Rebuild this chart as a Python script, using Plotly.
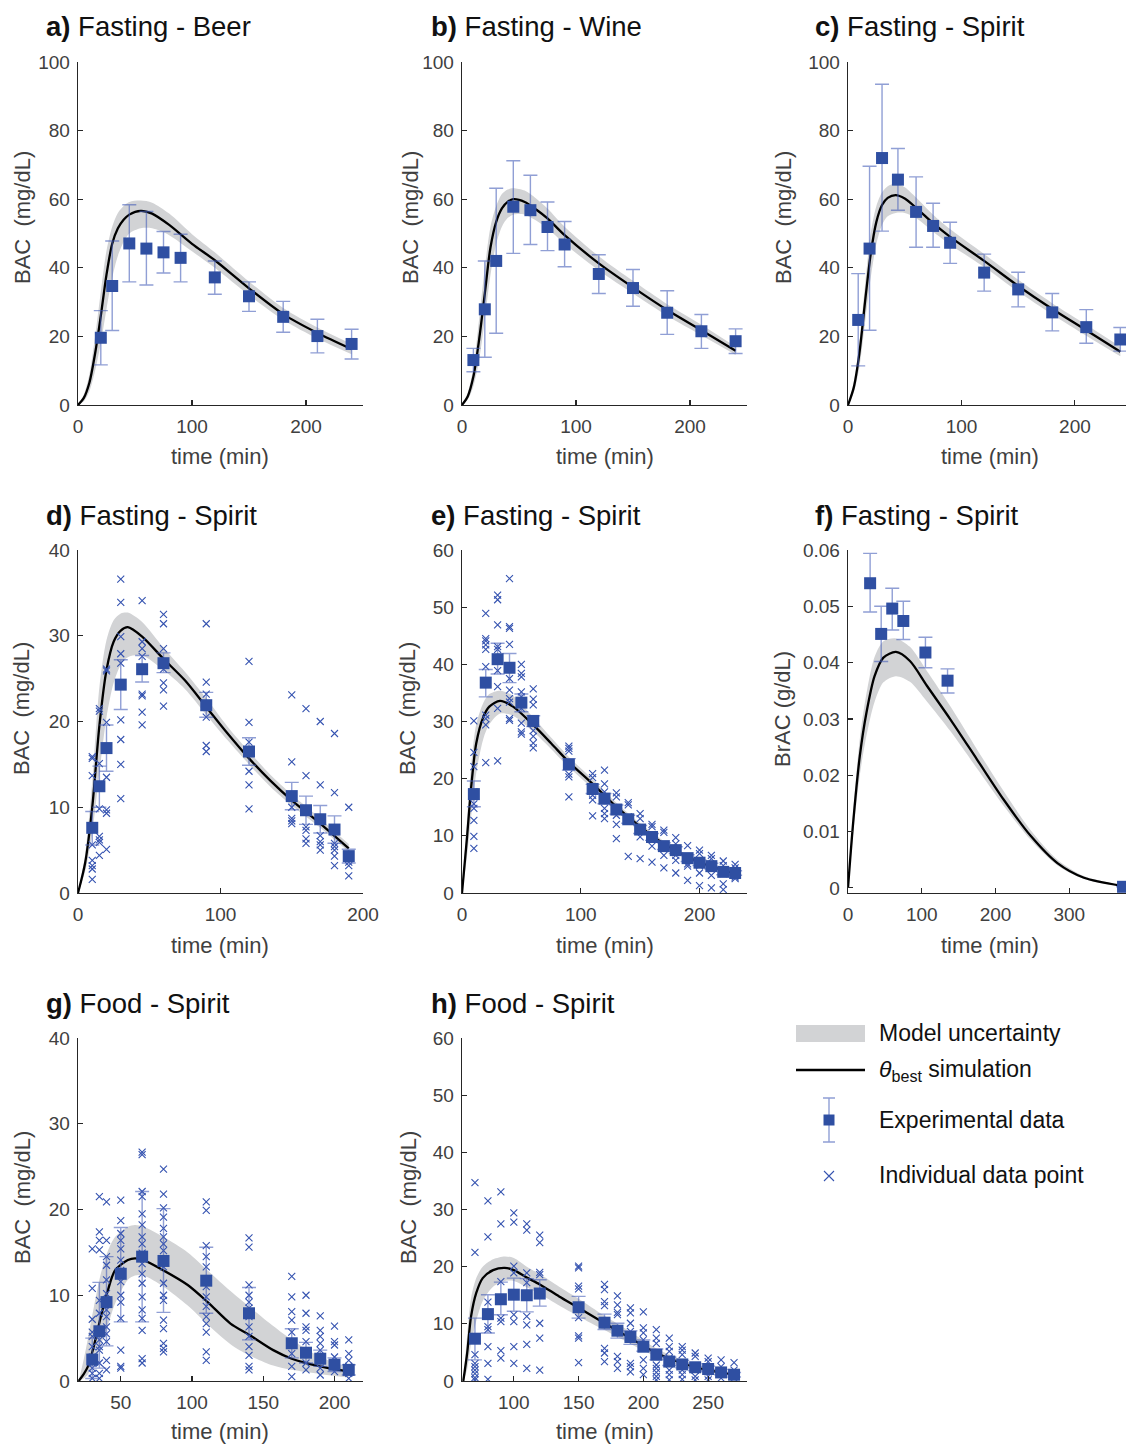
import plotly.graph_objects as go

W, H = 1126, 1444
FONT = "Liberation Sans, Arial, Helvetica, sans-serif"
BLUE = "#2f4fa2"
ERR = "rgba(70,95,185,0.6)"
XCOL = "#3553b0"
BAND = "#d2d3d5"
AX = "#262626"
TXT = "#404040"

# ---------------- data ----------------
titles = ["a)|Fasting - Beer", "b)|Fasting - Wine", "c)|Fasting - Spirit",
          "d)|Fasting - Spirit", "e)|Fasting - Spirit", "f)|Fasting - Spirit",
          "g)|Food - Spirit", "h)|Food - Spirit"]
ylabels = ["BAC  (mg/dL)"] * 5 + ["BrAC (g/dL)"] + ["BAC  (mg/dL)"] * 2
xlabel = "time (min)"

# experimental means and error-bar limits
a_t = [20, 30, 45, 60, 75, 90, 120, 150, 180, 210, 240]
a_y = [19.6, 34.7, 47.1, 45.6, 44.5, 42.9, 37.2, 31.7, 25.7, 20.1, 17.8]
a_hi = [27.5, 47.8, 58.4, 56.4, 50.6, 49.8, 42.0, 35.9, 30.2, 25.0, 22.1]
a_lo = [11.7, 21.7, 35.9, 35.0, 38.5, 35.9, 32.3, 27.3, 21.2, 15.2, 13.4]

b_t = [10, 20, 30, 45, 60, 75, 90, 120, 150, 180, 210, 240]
b_y = [13.1, 27.9, 42.0, 57.8, 56.8, 51.9, 46.8, 38.2, 34.1, 26.9, 21.5, 18.6]
b_hi = [16.5, 42.0, 63.2, 71.2, 67.0, 59.2, 53.5, 43.8, 39.5, 33.3, 26.4, 22.2]
b_lo = [9.7, 13.9, 20.9, 44.2, 46.8, 45.0, 40.3, 32.5, 28.8, 20.6, 16.5, 15.0]

c_t = [9, 19, 30, 44, 60, 75, 90, 120, 150, 180, 210, 240]
c_y = [24.8, 45.6, 72.0, 65.7, 56.3, 52.2, 47.3, 38.6, 33.7, 27.0, 22.7, 19.1]
c_hi = [38.3, 69.6, 93.5, 74.8, 66.5, 58.8, 53.3, 44.0, 38.7, 32.5, 27.8, 22.6]
c_lo = [11.4, 21.8, 50.7, 56.8, 46.0, 46.0, 41.3, 33.2, 28.6, 21.6, 18.0, 15.7]

d_t = [10, 15, 20, 30, 45, 60, 90, 120, 150, 160, 170, 180, 190]
d_y = [7.6, 12.45, 16.9, 24.3, 26.1, 26.8, 21.9, 16.5, 11.3, 9.65, 8.6, 7.4, 4.3]
d_hi = [9.5, 14.8, 19.6, 27.2, 27.7, 28.0, 23.4, 18.1, 12.9, 11.3, 10.2, 9.0, 5.1]
d_lo = [5.6, 10.0, 14.2, 21.4, 24.6, 25.7, 20.5, 14.9, 9.7, 8.0, 7.0, 5.8, 3.5]

e_t = [10, 20, 30, 40, 50, 60, 90, 110, 120, 130, 140, 150, 160, 170, 180, 190, 200, 210, 220, 230]
e_y = [17.3, 36.8, 40.9, 39.4, 33.3, 30.1, 22.5, 18.2, 16.5, 14.6, 12.9, 11.1, 9.8, 8.2, 7.5, 6.1, 5.3, 4.7, 3.7, 3.5]
e_hi = [19.6, 39.1, 43.7, 41.9, 34.8, 31.0, 23.5, 19.0, 17.4, 15.4, 13.6, 11.8, 10.4, 8.8, 8.1, 6.7, 5.8, 5.2, 4.2, 3.9]
e_lo = [15.1, 34.3, 38.3, 36.8, 31.7, 29.1, 21.5, 17.4, 15.6, 13.8, 12.2, 10.4, 9.2, 7.6, 6.9, 5.5, 4.8, 4.2, 3.2, 3.1]

f_t = [30, 45, 60, 75, 105, 135, 373]
f_y = [0.0541, 0.0451, 0.0496, 0.0474, 0.0418, 0.0368, 0.0002]
f_hi = [0.0594, 0.0500, 0.0532, 0.0509, 0.0445, 0.0389, 0.0002]
f_lo = [0.0490, 0.0402, 0.0458, 0.0441, 0.0391, 0.0346, 0.0002]

g_t = [30, 35, 40, 50, 65, 80, 110, 140, 170, 180, 190, 200, 210]
g_y = [2.5, 5.8, 9.2, 12.5, 14.5, 14.0, 11.7, 7.9, 4.4, 3.3, 2.6, 1.9, 1.3]
g_hi = [5.0, 11.5, 14.5, 17.9, 22.1, 20.1, 15.6, 10.9, 6.1, 4.5, 3.6, 2.7, 1.9]
g_lo = [0.3, 1.5, 4.1, 6.9, 6.9, 8.0, 7.9, 4.8, 2.7, 2.1, 1.7, 1.1, 0.7]

h_t = [70, 80, 90, 100, 110, 120, 150, 170, 180, 190, 200, 210, 220, 230, 240, 250, 260, 270]
h_y = [7.4, 11.7, 14.3, 15.1, 15.0, 15.3, 12.9, 10.2, 8.8, 7.7, 6.0, 4.6, 3.4, 2.9, 2.4, 2.1, 1.5, 1.1]
h_hi = [11.0, 15.1, 17.3, 18.0, 17.9, 17.7, 14.8, 11.7, 10.1, 8.8, 7.2, 5.6, 4.2, 3.6, 3.0, 2.6, 2.0, 1.5]
h_lo = [3.7, 8.4, 11.6, 12.2, 12.1, 13.1, 11.0, 9.0, 7.5, 6.4, 5.2, 3.7, 2.7, 2.3, 1.8, 1.6, 1.1, 0.7]

# model simulation (best) and uncertainty band
a_st = [0, 5, 10, 15, 20, 25, 30, 35, 40, 45, 55, 65, 80, 100, 120, 150, 180, 210, 240]
a_sy = [0, 2, 6.5, 15, 26, 38, 47, 51.5, 54, 55.5, 56.6, 55.8, 52.5, 47, 42.2, 34, 26.5, 21, 16.3]
a_sl = [0, 1, 4, 10, 18, 28, 37, 43.5, 47.5, 50, 51.5, 51.5, 49.5, 44.8, 40, 32, 24.8, 19.4, 14.8]
a_sh = [0, 3, 9, 20, 33, 45, 52, 56, 58, 59.2, 59.6, 59, 55.8, 49.8, 44.5, 36, 28.3, 22.6, 17.8]

b_st = [0, 5, 10, 15, 20, 25, 30, 35, 40, 45, 55, 65, 75, 90, 120, 150, 180, 210, 240]
b_sy = [0, 2.5, 8.3, 19, 32.5, 46, 53.4, 57.3, 59.2, 60, 59.2, 57, 54.4, 49.5, 41.3, 34.3, 27.7, 21.8, 15.8]
b_sl = [0, 1.5, 5.5, 13, 25, 38, 47, 52, 54.5, 55.5, 55.5, 53.8, 51.5, 47, 39.2, 32.5, 26, 20.3, 14.6]
b_sh = [0, 3.5, 11, 25, 40, 52, 58, 61.5, 62.8, 63.2, 62.5, 60.2, 57.3, 52, 43.4, 36.2, 29.4, 23.4, 17]

c_st = [0, 5, 10, 15, 20, 25, 30, 35, 42, 50, 60, 75, 90, 120, 150, 180, 210, 240]
c_sy = [0, 5, 15, 30, 44, 53.4, 58.3, 60.4, 61.2, 60.2, 57.5, 53, 49, 42, 34.7, 28, 21.8, 15.5]
c_sl = [0, 3.5, 11, 24, 37, 47, 52.5, 55, 56, 56, 54.5, 50.5, 46.8, 40.2, 33, 26.4, 20.2, 14.2]
c_sh = [0, 6.5, 18, 35, 50, 58, 62, 63.8, 64.5, 63.5, 60.5, 55.5, 51.3, 44, 36.5, 29.7, 23.4, 17]

d_st = [0, 5, 10, 15, 20, 25, 30, 35, 45, 60, 75, 90, 105, 120, 135, 150, 170, 190]
d_sy = [0, 3.5, 10, 19.5, 26, 29.3, 30.6, 31, 29.9, 27.3, 24.8, 21.7, 18.6, 15.7, 13.1, 10.8, 8.1, 5.2]
d_sl = [0, 2.5, 7, 14, 20.5, 24.5, 26.6, 27.5, 27.7, 26, 23.8, 20.8, 17.8, 15, 12.4, 10.2, 7.6, 4.8]
d_sh = [0, 4.5, 13, 24, 29.5, 31.8, 32.6, 32.7, 31.6, 28.6, 25.8, 22.7, 19.4, 16.5, 13.8, 11.5, 8.7, 5.7]

e_st = [0, 4, 8, 12, 18, 23, 32, 43, 60, 75, 90, 110, 130, 150, 170, 190, 210, 230]
e_sy = [0, 9.2, 19.1, 26.2, 30.8, 32.6, 33.6, 32.6, 29.4, 26.2, 22.9, 19.1, 15.1, 11.6, 8.6, 6.3, 4.6, 3.4]
e_sl = [0, 6, 14, 21, 27, 29.5, 31.4, 31, 28.2, 25.2, 22, 18.3, 14.4, 11, 8.1, 5.9, 4.3, 3.1]
e_sh = [0, 12, 23, 29.5, 33.3, 34.8, 35.4, 34.5, 30.7, 27.2, 23.8, 19.9, 15.8, 12.2, 9.1, 6.7, 4.9, 3.7]

f_st = [0, 7, 16, 25, 36, 48, 65, 84, 107, 139, 175, 211, 248, 284, 320, 370]
f_sy = [0, 0.0116, 0.0234, 0.0311, 0.0376, 0.0409, 0.0419, 0.0403, 0.0359, 0.0299, 0.0228, 0.0157, 0.0092, 0.0044, 0.0018, 0.0004]
f_sl = [0, 0.0095, 0.020, 0.027, 0.033, 0.0365, 0.0376, 0.0366, 0.0331, 0.0278, 0.0212, 0.0146, 0.0085, 0.0040, 0.0016, 0.0003]
f_sh = [0, 0.0135, 0.0265, 0.0345, 0.041, 0.0438, 0.0443, 0.0428, 0.0385, 0.0322, 0.0246, 0.0172, 0.0102, 0.0050, 0.0021, 0.0005]

g_st = [20.5, 24, 27, 31, 36, 41, 46, 55, 60, 66, 80, 97, 111, 127, 140, 157, 170, 190, 210]
g_sy = [0, 0.8, 1.7, 4.0, 7.5, 10.6, 12.9, 14.1, 14.3, 14.1, 12.9, 11.2, 9.2, 6.7, 5.4, 3.6, 2.6, 1.7, 1.1]
g_sl = [0, 0.3, 0.8, 2, 4.2, 6.5, 9, 11.8, 12.3, 12.3, 11, 8.8, 6.6, 4.3, 3.0, 1.8, 1.3, 0.8, 0.4]
g_sh = [0, 2.5, 5, 8.5, 12.5, 15.2, 16.8, 18, 18.2, 18, 16.8, 15, 12.9, 10.5, 8.7, 6.4, 4.8, 2.8, 1.6]

h_st = [61, 64, 67, 71, 76, 84, 93, 100, 110, 120, 135, 150, 170, 190, 210, 230, 250, 270]
h_sy = [0, 4.9, 11.3, 15.4, 18, 19.4, 19.8, 19.4, 18.1, 16.9, 14.8, 12.8, 10.1, 7.5, 4.9, 3.1, 1.9, 1.1]
h_sl = [0, 2, 6.5, 10.5, 14, 16.5, 17.5, 17.5, 16.4, 15.2, 13.2, 11.3, 8.9, 6.5, 4.2, 2.5, 1.5, 0.8]
h_sh = [0, 8, 14.5, 18, 20, 21.3, 21.8, 21.5, 20, 18.7, 16.5, 14.4, 11.4, 8.6, 5.7, 3.7, 2.3, 1.4]

# individual data points (time -> values)
d_ind = {
    10: [15.9, 15.7, 13.7, 5.6, 3.8, 3.2, 2.8, 1.6],
    15: [21.5, 21.2, 15.1, 9.8, 6.6, 6.2, 5.9, 4.4],
    20: [26.1, 25.9, 19.9, 13.5, 9.7, 9.3, 5.1],
    30: [36.6, 33.9, 29.9, 27.9, 26.8, 20.2, 17.9, 15.0, 11.0],
    45: [34.1, 29.3, 28.5, 27.6, 23.2, 23.0, 21.1, 19.6],
    60: [32.5, 31.4, 28.5, 26.1, 24.5, 23.7, 21.8],
    90: [31.4, 24.6, 23.2, 20.5, 17.2, 16.5],
    120: [27.0, 19.9, 17.6, 14.2, 12.6, 9.8],
    150: [23.1, 15.3, 10.0, 8.7, 8.4, 8.1],
    160: [21.5, 13.7, 7.7, 7.3, 6.3, 5.8],
    170: [20.0, 12.6, 6.7, 6.0, 5.6, 5.0],
    180: [18.6, 11.7, 5.8, 5.4, 5.0, 4.3, 3.2],
    190: [10.0, 4.0, 3.6, 3.2, 2.0],
}
e_ind = {
    10: [30.1, 24.6, 22.1, 17.7, 15.6, 14.8, 12.7, 9.9, 7.8],
    20: [48.9, 44.5, 44.1, 43.4, 42.6, 39.6, 31.1, 30.5, 29.4, 22.8],
    30: [52.1, 51.3, 46.9, 43.1, 42.6, 38.9, 36.1, 32.3, 23.1],
    40: [55.0, 46.6, 46.3, 43.5, 37.5, 35.5, 34.0, 33.4, 30.5, 30.2],
    50: [40.0, 38.4, 37.8, 35.2, 34.3, 32.3, 29.7, 28.2, 27.8],
    60: [35.7, 33.9, 32.9, 29.7, 28.4, 27.4, 26.2, 25.4],
    90: [25.7, 25.3, 24.8, 20.8, 20.3, 16.8],
    110: [20.9, 20.2, 17.7, 17.1, 16.3, 13.5],
    120: [21.5, 19.1, 17.7, 14.8, 13.9, 13.0],
    130: [17.5, 16.8, 13.6, 12.0, 9.5],
    140: [15.8, 15.4, 13.3, 12.7, 6.4],
    150: [13.9, 13.0, 11.4, 9.8, 6.0],
    160: [12.0, 11.6, 9.5, 8.2, 5.4],
    170: [11.0, 10.6, 7.8, 6.6, 4.4],
    180: [9.7, 8.6, 6.6, 5.7, 3.5],
    190: [8.3, 6.3, 5.1, 4.7, 2.2],
    200: [7.5, 6.9, 4.8, 3.5, 1.3],
    210: [6.6, 6.0, 4.4, 3.1, 0.9],
    220: [5.6, 4.8, 3.4, 1.6, 0.6],
    230: [5.0, 4.4, 3.4, 2.8, 2.5],
}
g_ind = {
    30: [15.4, 10.8, 7.2, 5.7, 5.2, 4.0, 2.8, 2.1, 1.5, 0.9, 0.3],
    35: [21.5, 17.4, 16.4, 15.3, 9.4, 7.9, 4.8, 4.0, 3.6, 2.1, 0.9, 0.3],
    40: [20.9, 16.4, 14.5, 13.5, 11.8, 10.2, 9.2, 8.3, 7.5, 6.3, 5.5, 4.6, 2.4, 1.3],
    50: [21.1, 18.7, 17.2, 16.4, 15.4, 14.1, 12.9, 11.6, 10.0, 9.2, 7.3, 3.6, 1.7, 1.5],
    65: [26.7, 26.4, 22.1, 21.5, 19.5, 18.2, 16.8, 16.0, 14.9, 13.7, 12.5, 11.4, 9.8, 8.3, 7.3, 5.9, 2.6, 2.1],
    80: [24.7, 21.8, 20.2, 19.1, 17.8, 16.8, 16.0, 15.2, 14.1, 13.3, 11.4, 10.0, 9.4, 7.1, 6.1, 4.4, 3.8, 3.4],
    110: [20.9, 19.9, 15.8, 14.5, 13.3, 11.9, 11.0, 9.8, 8.7, 7.5, 6.7, 5.7, 3.4, 2.4],
    140: [16.7, 15.6, 11.2, 10.0, 9.2, 8.5, 7.5, 6.3, 5.2, 4.0, 3.0, 1.7, 1.3],
    170: [12.2, 9.8, 8.1, 7.1, 5.7, 4.4, 3.2, 1.7, 0.5],
    180: [10.0, 7.9, 6.3, 5.9, 4.6, 3.2, 2.1, 1.3],
    190: [7.6, 5.9, 5.2, 4.4, 3.6, 2.4, 1.5, 0.7],
    200: [6.4, 4.6, 4.2, 2.8, 1.9, 1.1],
    210: [4.8, 3.2, 2.4, 1.7, 0.9, 0.3],
}
h_ind = {
    70: [34.7, 22.5, 4.6, 3.1, 2.5, 1.9, 1.3, 0.6, 0.2],
    80: [31.5, 25.2, 13.8, 9.5, 9.0, 6.0, 3.1, 0.3],
    90: [33.1, 27.5, 17.4, 11.0, 10.4, 5.3, 4.0],
    100: [29.4, 27.8, 20.1, 18.9, 11.6, 10.4, 6.0, 3.1],
    110: [27.5, 26.4, 18.9, 17.2, 11.3, 9.8, 6.4, 2.2],
    120: [25.5, 24.2, 19.0, 18.6, 10.1, 7.5, 1.9],
    150: [20.1, 19.8, 16.6, 16.1, 11.1, 7.9, 7.5, 3.2],
    170: [16.9, 16.0, 13.9, 13.2, 10.1, 5.7, 4.9, 3.4],
    180: [14.9, 13.3, 12.0, 11.6, 4.3, 3.4, 2.2],
    190: [12.8, 11.9, 10.1, 8.7, 3.1, 2.5, 1.6],
    200: [12.1, 9.3, 8.4, 7.2, 3.7, 2.2, 1.1],
    210: [9.0, 7.5, 6.6, 2.8, 2.2, 1.5, 0.8, 0.2],
    220: [7.5, 6.0, 5.2, 4.0, 1.9, 1.1, 0.2],
    230: [6.0, 5.4, 4.6, 1.9, 1.1, 0.3],
    240: [4.9, 4.3, 1.9, 0.8, 0.2],
    250: [4.0, 3.4, 1.6, 0.8, 0.2],
    260: [3.7, 2.5, 1.3, 0.5],
    270: [3.2, 1.9, 1.1, 0.5],
}

x_ticks = [[0, 100, 200]] * 5 + [[0, 100, 200, 300], [50, 100, 150, 200], [100, 150, 200, 250]]
y_ticks = [[0, 20, 40, 60, 80, 100]] * 3 + [[0, 10, 20, 30, 40], [0, 10, 20, 30, 40, 50, 60],
           [0, 0.01, 0.02, 0.03, 0.04, 0.05, 0.06], [0, 10, 20, 30, 40], [0, 10, 20, 30, 40, 50, 60]]
y_ticktext_f = ["0", "0.01", "0.02", "0.03", "0.04", "0.05", "0.06"]

legend_labels = ["Model uncertainty", "<i>θ</i><sub>best</sub> simulation",
                 "Experimental data", "Individual data point"]

exp_data = [(a_t, a_y, a_hi, a_lo), (b_t, b_y, b_hi, b_lo), (c_t, c_y, c_hi, c_lo),
            (d_t, d_y, d_hi, d_lo), (e_t, e_y, e_hi, e_lo), (f_t, f_y, f_hi, f_lo),
            (g_t, g_y, g_hi, g_lo), (h_t, h_y, h_hi, h_lo)]
sim_data = [(a_st, a_sy, a_sl, a_sh), (b_st, b_sy, b_sl, b_sh), (c_st, c_sy, c_sl, c_sh),
            (d_st, d_sy, d_sl, d_sh), (e_st, e_sy, e_sl, e_sh), (f_st, f_sy, f_sl, f_sh),
            (g_st, g_sy, g_sl, g_sh), (h_st, h_sy, h_sl, h_sh)]
ind_data = [None, None, None, d_ind, e_ind, None, g_ind, h_ind]

# ---------------- layout geometry (pixels) ----------------
GEOM = [(78, 363, 62, 405), (462, 747, 62, 405), (848, 1126, 62, 405),
        (78, 363, 550, 893), (462, 747, 550, 893), (848, 1126, 550, 893),
        (78, 363, 1038, 1381), (462, 747, 1038, 1381)]
XRANGE = [[0, 250], [0, 250], [0, 245], [0, 200], [0, 240], [0, 377], [20, 220], [60, 280]]
YRANGE = [[0, 100], [0, 100], [0, 100], [0, 40], [0, 60], [-0.0009, 0.06], [0, 40], [0, 60]]
TITLE_POS = [(44, 27), (429, 27), (813, 27), (44, 515), (429, 515), (813, 515), (44, 1003), (429, 1003)]
YLAB_POS = [(22, 218), (410, 218), (783, 218), (22, 709), (408, 709), (783, 709), (22, 1198), (408, 1198)]
XLAB_POS = [(220, 456), (605, 456), (990, 456), (220, 945), (605, 945), (990, 945), (220, 1431), (605, 1431)]


def px(x):
    return x / W


def py(y):
    return 1 - y / H


fig = go.Figure()
layout = dict(width=W, height=H, margin=dict(l=0, r=0, t=0, b=0, pad=0, autoexpand=False),
              paper_bgcolor="white", plot_bgcolor="white", showlegend=False,
              font=dict(family=FONT, color=TXT))
annotations = []
shapes = []

for i in range(8):
    n = i + 1
    xa, ya = f"x{n}" if n > 1 else "x", f"y{n}" if n > 1 else "y"
    l, r, t, b = GEOM[i]
    axis_common = dict(showline=True, linecolor=AX, linewidth=1.3, ticks="inside", ticklen=5,
                       tickwidth=1.1, tickcolor=AX, showgrid=False, zeroline=False, automargin=False,
                       tickfont=dict(family=FONT, size=19, color=TXT), mirror=False)
    layout[f"xaxis{n}"] = dict(domain=[px(l), px(r)], range=XRANGE[i], anchor=ya,
                               tickvals=x_ticks[i], ticklabelstandoff=4, **axis_common)
    ydict = dict(domain=[py(b), py(t)], range=YRANGE[i], anchor=xa, tickvals=y_ticks[i],
                 ticklabelstandoff=3, **axis_common)
    if i == 5:
        ydict["ticktext"] = y_ticktext_f
    layout[f"yaxis{n}"] = ydict

    st, sy, sl, sh = sim_data[i]
    fig.add_trace(go.Scatter(x=st, y=sl, mode="lines", line=dict(width=0, shape="spline", smoothing=0.8),
                             xaxis=xa, yaxis=ya, hoverinfo="skip"))
    fig.add_trace(go.Scatter(x=st, y=sh, mode="lines", line=dict(width=0, shape="spline", smoothing=0.8),
                             fill="tonexty", fillcolor=BAND, xaxis=xa, yaxis=ya, hoverinfo="skip"))
    fig.add_trace(go.Scatter(x=st, y=sy, mode="lines",
                             line=dict(color="black", width=2.3, shape="spline", smoothing=0.8),
                             xaxis=xa, yaxis=ya))
    ind = ind_data[i]
    if ind is not None:
        xs, ys = [], []
        for tt, vals in ind.items():
            xs += [tt] * len(vals)
            ys += vals
        fig.add_trace(go.Scatter(x=xs, y=ys, mode="markers", xaxis=xa, yaxis=ya,
                                 marker=dict(symbol="x-thin", size=7, line=dict(color=XCOL, width=1.1))))
    et, ey, ehi, elo = exp_data[i]
    fig.add_trace(go.Scatter(
        x=et, y=ey, mode="markers", xaxis=xa, yaxis=ya,
        marker=dict(symbol="square", size=12, color=BLUE, line=dict(width=0)),
        error_y=dict(type="data", symmetric=False,
                     array=[h - v for h, v in zip(ehi, ey)],
                     arrayminus=[v - lo for v, lo in zip(ey, elo)],
                     color=ERR, thickness=1.4, width=7)))

    lab, rest = titles[i].split("|")
    tx, ty = TITLE_POS[i]
    annotations.append(dict(x=px(tx), y=py(ty), xref="paper", yref="paper", xanchor="left",
                            yanchor="middle", showarrow=False, text=f"<b>{lab}</b> {rest}",
                            font=dict(family=FONT, size=27.5, color="#111111")))
    yx, yy = YLAB_POS[i]
    annotations.append(dict(x=px(yx), y=py(yy), xref="paper", yref="paper", xanchor="center",
                            yanchor="middle", showarrow=False, text=ylabels[i], textangle=-90,
                            font=dict(family=FONT, size=22, color=TXT)))
    xx, xy = XLAB_POS[i]
    annotations.append(dict(x=px(xx), y=py(xy), xref="paper", yref="paper", xanchor="center",
                            yanchor="middle", showarrow=False, text=xlabel,
                            font=dict(family=FONT, size=22, color=TXT)))

# ---------------- legend (drawn on a hidden pixel-scaled axis) ----------------
layout["xaxis9"] = dict(domain=[px(780), 1.0], range=[780, 1126], visible=False, anchor="y9",
                        automargin=False)
layout["yaxis9"] = dict(domain=[py(1200), py(1010)], range=[1200, 1010], visible=False, anchor="x9",
                        automargin=False)
shapes.append(dict(type="rect", xref="x9", yref="y9", x0=796, x1=865, y0=1025, y1=1042,
                   fillcolor=BAND, line=dict(width=0)))
shapes.append(dict(type="line", xref="x9", yref="y9", x0=796, x1=865, y0=1070, y1=1070,
                   line=dict(color="black", width=2.3)))
fig.add_trace(go.Scatter(x=[829], y=[1120], mode="markers", xaxis="x9", yaxis="y9",
                         marker=dict(symbol="square", size=11, color=BLUE),
                         error_y=dict(type="data", array=[22], color=ERR, thickness=1.4, width=6)))
fig.add_trace(go.Scatter(x=[829], y=[1176], mode="markers", xaxis="x9", yaxis="y9",
                         marker=dict(symbol="x-thin", size=10, line=dict(color=XCOL, width=1.1))))
for lab_txt, yy in zip(legend_labels, [1033, 1070, 1120, 1175]):
    annotations.append(dict(x=877, y=yy, xref="x9", yref="y9", xanchor="left", yanchor="middle",
                            showarrow=False, text=lab_txt,
                            font=dict(family=FONT, size=23, color="#111111")))

layout["annotations"] = annotations
layout["shapes"] = shapes
fig.update_layout(**layout)
fig.write_html("out.html", config={"displayModeBar": False, "staticPlot": True},
               post_script="document.body.style.margin='0px';document.body.style.overflow='hidden';")
